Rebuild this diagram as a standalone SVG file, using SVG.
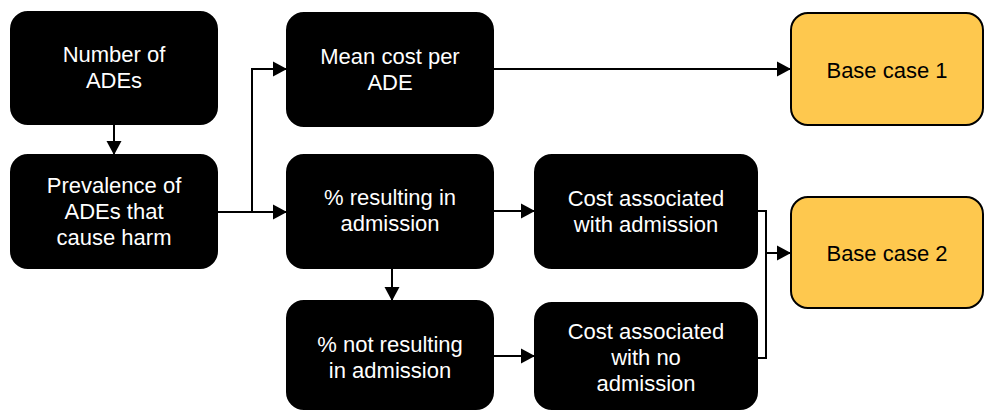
<svg xmlns="http://www.w3.org/2000/svg" width="984" height="410" viewBox="0 0 984 410">
  <defs>
    <marker id="arrow" markerUnits="userSpaceOnUse" markerWidth="16" markerHeight="16" viewBox="0 0 16 16" refX="14" refY="8" orient="auto">
      <path d="M0,0.5 L14,8 L0,15.5 Z" fill="#000"/>
    </marker>
    <style>
      .box { fill: #000; stroke: #000; stroke-width: 2; }
      .out { fill: #FEC84E; stroke: #000; stroke-width: 2; }
      .lbl { font-family: "Liberation Sans", Arial, sans-serif; font-size: 22px; text-anchor: middle; fill: #fff; }
      .lbl.dark { fill: #000; }
      .wire { fill: none; stroke: #000; stroke-width: 2; }
      .arrowed { marker-end: url(#arrow); }
    </style>
  </defs>
  <rect width="984" height="410" fill="#fff"/>

  <!-- connectors -->
  <g id="connectors">
    <path class="wire arrowed" d="M114,124 V155"/>
    <path class="wire arrowed" d="M217,212 H287"/>
    <path class="wire arrowed" d="M252,212 V69 H287"/>
    <path class="wire arrowed" d="M493,69 H791"/>
    <path class="wire arrowed" d="M493,211 H535"/>
    <path class="wire arrowed" d="M392,268 V301"/>
    <path class="wire arrowed" d="M493,356 H535"/>
    <path class="wire" d="M757,211 H766 V358 H757"/>
    <path class="wire arrowed" d="M766,253 H791"/>
  </g>

  <g id="n-number-ades">
    <rect class="box" x="11" y="12" width="206" height="112" rx="17"/>
    <text class="lbl" x="114" y="62">Number of</text>
    <text class="lbl" x="114" y="88">ADEs</text>
  </g>

  <g id="n-prevalence">
    <rect class="box" x="11" y="155" width="206" height="113" rx="17"/>
    <text class="lbl" x="114" y="193">Prevalence of</text>
    <text class="lbl" x="114" y="219">ADEs that</text>
    <text class="lbl" x="114" y="245">cause harm</text>
  </g>

  <g id="n-mean-cost">
    <rect class="box" x="287" y="13" width="206" height="113" rx="17"/>
    <text class="lbl" x="390" y="64">Mean cost per</text>
    <text class="lbl" x="390" y="90">ADE</text>
  </g>

  <g id="n-resulting">
    <rect class="box" x="287" y="155" width="206" height="113" rx="17"/>
    <text class="lbl" x="390" y="205">% resulting in</text>
    <text class="lbl" x="390" y="231">admission</text>
  </g>

  <g id="n-not-resulting">
    <rect class="box" x="287" y="301" width="206" height="108" rx="17"/>
    <text class="lbl" x="390" y="352">% not resulting</text>
    <text class="lbl" x="390" y="378">in admission</text>
  </g>

  <g id="n-cost-admission">
    <rect class="box" x="535" y="155" width="222" height="113" rx="17"/>
    <text class="lbl" x="646" y="206">Cost associated</text>
    <text class="lbl" x="646" y="232">with admission</text>
  </g>

  <g id="n-cost-no-admission">
    <rect class="box" x="535" y="303" width="222" height="106" rx="17"/>
    <text class="lbl" x="646" y="339">Cost associated</text>
    <text class="lbl" x="646" y="365">with no</text>
    <text class="lbl" x="646" y="391">admission</text>
  </g>

  <g id="n-base-case-1">
    <rect class="out" x="791" y="13" width="192" height="112" rx="17"/>
    <text class="lbl dark" x="887" y="78">Base case 1</text>
  </g>

  <g id="n-base-case-2">
    <rect class="out" x="791" y="197" width="192" height="111" rx="17"/>
    <text class="lbl dark" x="887" y="261">Base case 2</text>
  </g>
</svg>
